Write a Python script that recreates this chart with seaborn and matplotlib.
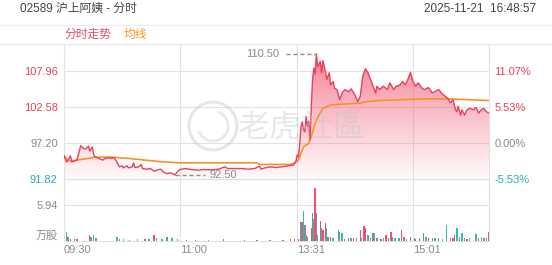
import numpy as np
import pandas as pd
import matplotlib
matplotlib.use("Agg")
import matplotlib.pyplot as plt
import seaborn as sns
from matplotlib.patches import Circle, Arc
from matplotlib.lines import Line2D

# ---------------- data (minutes since 09:30, lunch break removed) ----------------
price_idx = [0, 2, 4, 5, 6, 8, 10, 13, 15, 17, 19, 20, 22, 23, 24, 27, 30, 32, 35, 37, 39,
             41, 43, 45, 46, 49, 50, 53, 54, 55, 58, 60, 61, 64, 67, 70, 72, 75, 77, 80, 83,
             86, 88, 90, 94, 99, 104, 109, 114, 120, 125, 127, 133, 138, 143, 148, 152, 153,
             156, 160, 164, 169, 174, 178, 180, 181, 182, 183, 184, 185, 186, 187, 188, 189,
             190, 191, 192, 193, 194, 195, 196, 197, 199, 200, 201, 203, 204, 206, 207, 209,
             210, 212, 214, 216, 218, 221, 223, 226, 228, 230, 232, 234, 236, 238, 240, 242,
             243, 245, 248, 251, 253, 256, 258, 261, 263, 265, 267, 269, 271, 273, 275, 278,
             280, 283, 286, 288, 291, 293, 296, 298, 300, 302, 304, 305, 306, 308, 309, 311,
             313, 315, 318, 320, 322, 324, 326, 327, 328, 330]
price_val = [95.35, 94.40, 94.95, 95.35, 94.45, 94.55, 94.70, 96.85, 96.45, 96.35, 96.80,
             96.05, 96.65, 95.55, 95.20, 94.95, 94.70, 94.95, 95.05, 94.95, 95.05,
             94.45, 93.70, 93.85, 93.55, 93.85, 93.55, 93.70, 94.30, 93.60, 93.70, 94.05,
             93.45, 93.35, 93.45, 93.05, 93.20, 93.35, 92.95, 92.70, 92.80,
             92.50, 92.95, 93.30, 93.45, 93.30, 93.20, 93.30, 93.25, 93.35, 93.70, 93.45,
             93.45, 93.45, 93.35, 93.45, 93.80, 93.35,
             93.55, 93.70, 93.60, 93.70, 93.85, 93.95, 94.45, 95.45, 95.20, 97.00, 99.60,
             100.40, 99.20, 98.90, 101.20, 99.70,
             100.50, 97.70, 102.70, 106.70, 108.40, 107.50, 110.50, 108.60, 109.40, 107.70,
             109.50, 107.90, 106.70, 107.70, 105.90, 106.40,
             105.40, 105.20, 103.70, 104.70, 105.20, 104.90, 105.30, 104.40, 103.40, 104.20,
             107.20, 108.30, 107.70, 106.70, 105.70, 104.70,
             105.70, 105.20, 105.70, 105.20, 106.20, 105.20, 105.70, 105.90, 106.40, 105.90,
             106.70, 107.75, 106.40, 105.70, 106.20, 105.40,
             105.20, 105.50, 104.70, 104.90, 105.20, 104.70, 104.20, 103.90, 103.20, 103.70,
             102.20, 101.90, 102.70, 101.40, 102.20, 101.40,
             102.20, 102.40, 102.20, 102.50, 101.70, 102.20, 102.40, 102.10, 101.90, 101.70]

avg_idx = [0, 4, 19, 24, 37, 50, 63, 76, 90, 150, 152, 176, 179, 182, 186, 190, 192, 195,
           198, 201, 207, 220, 230, 235, 245, 260, 279, 298, 330]
avg_val = [95.35, 94.55, 94.95, 95.15, 95.15, 94.95, 94.70, 94.45, 94.30, 94.30, 94.06,
           94.06, 94.30, 94.70, 96.70, 97.20, 98.20, 100.20, 101.40, 102.40, 102.90,
           103.07, 103.18, 103.42, 103.57, 103.67, 103.82, 103.82, 103.57]

vol_idx = [2, 3, 5, 8, 10, 20, 21, 23, 25, 41, 43, 46, 51, 57, 63, 66, 70, 72, 76, 80, 84, 88,
           95, 102, 112, 124, 140, 150, 160, 170,
           176, 179, 182, 184, 185, 186, 187, 188, 189, 192, 193, 194, 195, 196, 197, 199, 200,
           201, 203, 204, 205, 207, 209, 213, 214, 216, 218, 221, 223, 225, 227, 230, 231, 233,
           234, 236, 238, 240, 241, 243, 246, 248, 250, 252, 254, 255, 257, 260, 262, 264, 266,
           269, 272, 273, 276, 279, 281, 283, 286, 288, 291, 294, 297, 300, 302, 303, 305, 307,
           309, 311, 313, 315, 320, 322, 324, 326, 328, 330]
vol_val = [1.45, 0.6, 0.4, 0.3, 0.4, 1.05, 0.6, 1.0, 0.45, 0.7, 0.4, 0.3, 0.2, 0.3, 0.3, 0.4,
           1.0, 0.45, 0.4, 0.6, 0.5, 0.3,
           0.1, 0.15, 0.2, 0.25, 0.15, 0.2, 0.15, 0.1,
           0.3, 0.3, 0.4, 3.2, 3.2, 4.95, 2.6, 1.0, 0.7, 2.1, 4.6, 3.7, 8.7, 4.6, 1.0, 3.3, 2.1,
           1.8, 2.9, 2.2, 0.7, 0.7, 0.55, 1.8, 1.5, 1.4, 0.3, 0.45, 0.45, 0.45, 0.55, 1.8, 0.45,
           2.4, 2.2, 1.0, 0.45, 1.25, 1.25, 0.45, 0.3, 0.45, 1.0, 0.55, 1.5, 0.7, 0.45, 0.45,
           1.8, 0.7, 0.3, 0.7, 0.55, 0.3, 0.45, 1.25, 0.7, 0.55, 0.45, 0.45, 0.55, 0.3, 2.6,
           0.55, 0.45, 1.0, 2.1, 0.7, 1.25, 0.55, 0.3, 0.45, 1.1, 0.45, 0.7, 0.45, 0.55, 1.5]
vol_dir = ['d', 'n', 'u', 'n', 'u', 'u', 'n', 'd', 'd', 'd', 'n', 'd', 'n', 'd', 'n', 'd',
           'u', 'd', 'd', 'n', 'd', 'd',
           'n', 'd', 'd', 'u', 'n', 'n', 'd', 'n',
           'u', 'u', 'u', 'n', 'u', 'd', 'n', 'd', 'u', 'u', 'n', 'd', 'u', 'n', 'd', 'u', 'd',
           'u', 'u', 'd', 'n', 'u', 'd', 'd', 'n', 'd', 'u', 'n', 'd', 'u', 'n', 'u', 'd',
           'u', 'u', 'd', 'u', 'n', 'd', 'n', 'u', 'd', 'u', 'd', 'u', 'n', 'd', 'd',
           'u', 'u', 'd', 'n', 'd', 'u', 'n', 'n', 'd', 'u', 'n', 'd', 'n', 'd', 'd',
           'n', 'u', 'n', 'd', 'n', 'd', 'n', 'u', 'd', 'd', 'u', 'd', 'n', 'u', 'n']

price_ticks = [91.82, 97.20, 102.58, 107.96]
pct_labels = ['-5.53%', '0.00%', '5.53%', '11.07%']
vol_tick = 5.94
time_pos = [0, 90, 181, 271]
time_labels = ['09:30', '11:00', '13:31', '15:01']
high_idx, high_val = 196, 110.50
low_idx, low_val = 86, 92.50

title = '02589 沪上阿姨 - 分时'
stamp = '2025-11-21  16:48:57'

# ---------------- style ----------------
sns.set_theme(style="white")
plt.rcParams['font.family'] = ['Liberation Sans', 'Noto Sans CJK SC', 'DejaVu Sans']

RED = '#ea3f5f'
ORANGE = '#f7922a'
TEAL = '#22b3a5'
GRAY_T = '#8a8a8a'
GRID = '#e2e2e2'
UP = '#f0506e'
DOWN = '#35bdac'
FLAT = '#848794'

W, H = 552, 265
fig = plt.figure(figsize=(W / 100, H / 100), dpi=100)
fig.patch.set_facecolor('white')


def fx(px):
    return px / W


def fy(py):
    return 1 - py / H


ax = fig.add_axes([fx(64), fy(187), fx(489) - fx(64), fy(44) - fy(187)])
axv = fig.add_axes([fx(64), fy(241), fx(489) - fx(64), fy(187) - fy(241)], sharex=ax)

YMIN, YMAX = 90.70, 111.98
ax.set_xlim(0, 330)
ax.set_ylim(YMIN, YMAX)

df_p = pd.DataFrame({'t': price_idx, 'p': price_val})
df_a = pd.DataFrame({'t': avg_idx, 'p': avg_val})

# gradient fill under price line
poly = ax.fill_between(df_p['t'], df_p['p'], YMIN, facecolor='none', edgecolor='none')
n = 256
alpha = np.linspace(0, 1, n) ** 1.1 * 0.8
rgba = np.zeros((n, 1, 4))
rgba[..., 0] = 0.95
rgba[..., 1] = 0.33
rgba[..., 2] = 0.43
rgba[:, 0, 3] = alpha
im = ax.imshow(rgba, extent=[0, 330, YMIN, YMAX], origin='lower', aspect='auto', zorder=1,
               interpolation='bilinear')
im.set_clip_path(poly.get_paths()[0], transform=ax.transData)

# grid
for v in price_ticks:
    ax.axhline(v, color=GRID, lw=0.8, zorder=0.5)
for t in time_pos[1:]:
    ax.axvline(t, color=GRID, lw=0.8, zorder=0.5)
    axv.axvline(t, color=GRID, lw=0.8, zorder=0.5)
axv.axhline(vol_tick, color=GRID, lw=0.8, zorder=0.5)

sns.lineplot(data=df_a, x='t', y='p', ax=ax, color=ORANGE, lw=1.2, zorder=3)
sns.lineplot(data=df_p, x='t', y='p', ax=ax, color=RED, lw=1.0, zorder=4)
ax.set_xlim(0, 330)
ax.set_ylim(YMIN, YMAX)

# high / low markers
ax.plot([172.5, high_idx], [high_val, high_val], color='#8c8c8c', lw=1.0, ls=(0, (3, 2)), zorder=5)
ax.text(166.7, high_val, f'{high_val:.2f}', ha='right', va='center', fontsize=8, color='#8c8c8c')
ax.plot([low_idx, 109.5], [low_val, low_val], color='#8c8c8c', lw=1.0, ls=(0, (3, 2)), zorder=5)
ax.text(113, low_val, f'{low_val:.2f}', ha='left', va='center', fontsize=8, color='#8c8c8c')

# price axis labels
ax.set_yticks(price_ticks)
ax.set_yticklabels([f'{v:.2f}' for v in price_ticks], fontsize=8)
lcols = [TEAL, GRAY_T, RED, RED]
for lab, c in zip(ax.get_yticklabels(), lcols):
    lab.set_color(c)
ax.tick_params(axis='y', length=0, pad=4.5)
ax.tick_params(axis='x', length=0, labelbottom=False)
ax.set_xlabel('')
ax.set_ylabel('')

axr = ax.twinx()
axr.set_ylim(YMIN, YMAX)
axr.set_yticks(price_ticks)
axr.set_yticklabels(pct_labels, fontsize=8)
for lab, c in zip(axr.get_yticklabels(), lcols):
    lab.set_color(c)
axr.tick_params(axis='y', length=0, pad=3.8)
axr.grid(False)
for s in axr.spines.values():
    s.set_visible(False)

for name, s in ax.spines.items():
    if name in ('left', 'right'):
        s.set_visible(True)
        s.set_color(GRID)
        s.set_linewidth(0.8)
    else:
        s.set_visible(False)

# volume
cmap_dir = {'u': UP, 'd': DOWN, 'n': FLAT}
axv.bar(vol_idx, vol_val, width=1.1, color=[cmap_dir[d] for d in vol_dir], linewidth=0, zorder=3)
axv.set_ylim(0, 8.91)
axv.set_yticks([0, vol_tick])
axv.set_yticklabels(['万股', f'{vol_tick:.2f}'], fontsize=8, color=GRAY_T)
axv.get_yticklabels()[0].set_va('bottom')
axv.tick_params(axis='y', length=0, pad=4.5)
axv.set_xticks(time_pos)
axv.set_xticklabels(time_labels, fontsize=8, color=GRAY_T, ha='left')
axv.tick_params(axis='x', length=0, pad=3)
for name, s in axv.spines.items():
    if name == 'top':
        s.set_visible(False)
    else:
        s.set_visible(True)
        s.set_color(GRID)
        s.set_linewidth(0.8)
axv.set_xlim(0, 330)

# header
fig.add_artist(Line2D([0, 1], [fy(25), fy(25)], transform=fig.transFigure, color='#eeeeee', lw=0.8))
fig.add_artist(Line2D([0, 1], [fy(44), fy(44)], transform=fig.transFigure, color='#e6e6e6', lw=0.8))
fig.text(fx(20), fy(8.5), title, fontsize=8.5, color='#444444', va='center', ha='left')
fig.text(fx(536), fy(8.5), stamp, fontsize=8.5, color='#444444', va='center', ha='right')
fig.text(fx(64), fy(34.5), '分时走势', fontsize=8.5, color='#ea4a6a', va='center', ha='left')
fig.text(fx(124), fy(34.5), '均线', fontsize=8.5, color='#f59a2c', va='center', ha='left')

# watermark
fig.add_artist(Circle((213, H - 126), 24, transform=None, fill=False, ec='#c8c8c8', lw=2.2,
                      alpha=0.45, zorder=10))
fig.add_artist(Arc((213, H - 126), 30, 30, theta1=200, theta2=70, transform=None, ec='#c8c8c8',
                   lw=2.0, alpha=0.4, zorder=10))
fig.text(fx(238), fy(128), '老虎社區', fontsize=23, color='#c4c4c4', alpha=0.38, va='center',
         ha='left', family=['Noto Sans CJK SC'], zorder=10)

fig.savefig('out.png', dpi=100, facecolor='white')
